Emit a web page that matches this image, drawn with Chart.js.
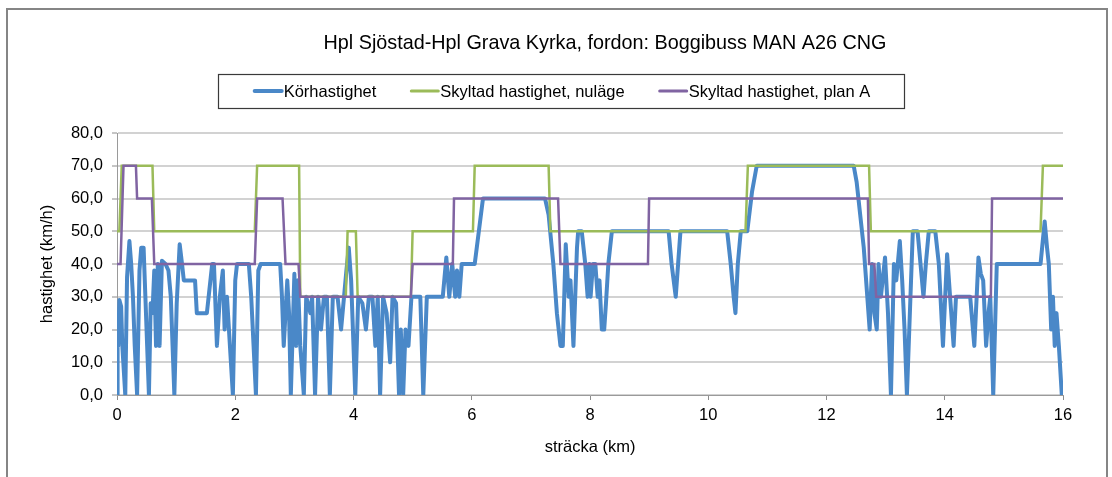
<!DOCTYPE html>
<html><head><meta charset="utf-8">
<script src="https://cdn.jsdelivr.net/npm/chart.js@4.4.0/dist/chart.umd.min.js"></script>
<style>html,body{margin:0;padding:0;background:#fff}canvas{display:block}</style>
</head><body>
<canvas id="c" width="1112" height="477"></canvas>
<script>
const chartTitle = 'Hpl Sjöstad-Hpl Grava Kyrka, fordon: Boggibuss MAN A26 CNG';
const xAxisTitle = 'sträcka (km)';
const yAxisTitle = 'hastighet (km/h)';
const seriesNames = ['Körhastighet', 'Skyltad hastighet, nuläge', 'Skyltad hastighet, plan A'];
const xTicks = [0, 2, 4, 6, 8, 10, 12, 14, 16];
const yTicks = [0, 10, 20, 30, 40, 50, 60, 70, 80];

// Körhastighet (driving speed)
const korKm = [0.00,0.01,0.02,0.04,0.07,0.09,0.14,0.17,0.21,0.24,0.27,0.30,0.34,0.38,0.41,0.45,0.48,0.51,0.54,0.57,0.60,0.63,0.66,0.69,0.72,0.76,0.82,0.87,0.91,0.94,0.97,1.01,1.06,1.10,1.13,1.32,1.35,1.52,1.55,1.61,1.64,1.69,1.74,1.79,1.82,1.86,1.91,1.96,2.00,2.03,
 2.23,2.27,2.31,2.35,2.39,2.43,2.76,2.79,2.82,2.88,2.91,2.94,3.00,3.03,3.06,3.10,3.16,3.20,3.27,3.30,3.35,3.40,3.45,3.50,3.55,3.60,3.65,3.73,3.79,3.84,3.88,3.92,3.96,4.03,
 4.08,4.15,4.21,4.26,4.32,4.37,4.41,4.45,4.50,4.56,4.62,4.66,4.72,4.77,4.80,4.84,4.88,4.93,4.98,5.13,5.18,5.24,5.51,5.57,5.62,5.67,5.72,5.75,5.79,5.83,6.05,6.12,6.19,
 7.24,7.30,7.38,7.44,7.50,7.54,7.59,7.64,7.67,7.72,7.78,7.80,7.86,7.92,7.96,7.99,8.01,8.05,8.09,8.13,8.16,8.20,8.24,8.27,8.31,8.37,9.33,9.38,9.45,9.49,9.53,
 10.32,10.38,10.43,10.46,10.50,10.55,10.66,10.74,10.82,12.46,12.51,12.57,12.63,12.69,12.73,12.77,12.81,12.85,12.88,12.92,12.99,13.04,13.09,13.14,13.18,13.24,13.28,13.32,13.36,
 13.42,13.46,13.54,13.59,13.64,13.68,13.73,13.84,13.90,13.97,14.04,14.09,14.15,14.19,14.43,14.50,14.54,14.57,14.61,14.65,14.70,14.74,14.77,14.82,14.88,15.62,15.69,15.73,15.76,15.80,15.83,15.86,15.89,15.93,15.98];
const korSpeed = [0,24,15,29,27,15,0,36,47,40,30,15,0,38,45,45,30,15,0,28,25,38,15,40,15,41,40,38,30,15,0,28,46,40,35,35,25,25,30,40,40,15,30,38,20,30,15,0,35,40,
 40,30,15,0,38,40,40,30,15,35,25,0,37,15,35,15,0,30,25,30,0,30,20,30,30,0,30,30,20,30,38,45,35,0,
 30,28,20,30,30,15,30,0,30,25,10,30,28,0,20,0,20,15,30,30,0,30,30,42,30,40,30,38,30,40,40,50,60,
 60,55,40,25,15,15,46,30,35,15,45,50,50,40,30,40,30,40,40,30,35,20,20,28,40,50,50,40,30,40,50,
 50,40,30,25,40,50,50,62,70,70,65,55,45,30,20,40,25,20,40,30,42,25,0,40,35,47,35,20,0,
 30,50,50,40,30,40,50,50,40,15,43,30,15,30,30,15,30,42,37,35,15,25,30,0,40,40,53,45,40,20,30,15,25,15,0];

// Skyltad hastighet, nuläge (posted speed, current)
const nulageKm    = [0,0.04,0.08,0.60,0.63,2.33,2.37,3.08,3.10,3.87,3.90,4.04,4.07,4.97,5.00,6.02,6.05,7.30,7.33,10.63,10.67,12.72,12.75,15.62,15.66,16];
const nulageSpeed = [50,50,70,70,50,50,70,70,30,30,50,50,30,30,50,50,70,70,50,50,70,70,50,50,70,70];

// Skyltad hastighet, plan A (posted speed, plan A)
const planKm    = [0,0.06,0.11,0.32,0.34,0.59,0.63,2.33,2.37,2.80,2.85,3.07,3.10,4.97,5.00,5.68,5.70,7.46,7.50,8.98,9.00,12.70,12.72,12.81,12.84,14.78,14.80,16];
const planSpeed = [40,40,70,70,60,60,40,40,60,60,40,40,30,30,40,40,60,60,40,40,60,60,40,40,30,30,60,60];

const FAMILY = '"Liberation Sans", Arial, sans-serif';
const baseFont = {family: FAMILY, size: 16.5};
const toPts = (xs, ys) => xs.map((x, i) => ({x: x, y: ys[i]}));

const framePlugin = {
  id: 'frame',
  beforeDraw(chart) {
    const ctx = chart.ctx;
    ctx.save();
    ctx.fillStyle = '#ffffff';
    ctx.fillRect(0, 0, chart.width, chart.height);
    ctx.strokeStyle = '#858585';
    ctx.lineWidth = 2;
    ctx.strokeRect(7, 9, 1100, 480);
    ctx.restore();
  }
};

const titlePlugin = {
  id: 'customTitle',
  afterDraw(chart) {
    const ctx = chart.ctx;
    ctx.save();
    ctx.font = '19.8px ' + FAMILY;
    ctx.fillStyle = '#000';
    ctx.textAlign = 'center';
    ctx.textBaseline = 'middle';
    ctx.fillText(chart.options.plugins.customTitle.text, 605, 44);
    ctx.restore();
  }
};

const legendPlugin = {
  id: 'boxedLegend',
  afterDraw(chart) {
    const ctx = chart.ctx;
    ctx.save();
    ctx.font = '16.5px ' + FAMILY;
    const ds = chart.data.datasets;
    const lineLen = 28, gapText = 2, gapItem = 34, margin = 34;
    const widths = ds.map(d => lineLen + gapText + ctx.measureText(d.label).width);
    const total = widths.reduce((a, b) => a + b, 0) + gapItem * (ds.length - 1);
    const cx = 562, cy = 91;
    let x = cx - total / 2;
    const boxL = Math.round(x - margin) - 1.5;
    const boxR = Math.round(x + total + margin) + 0.5;
    ctx.strokeStyle = '#3a3a3a';
    ctx.lineWidth = 1.2;
    ctx.strokeRect(boxL, 74.5, boxR - boxL, 34);
    ds.forEach((d, i) => {
      ctx.strokeStyle = d.borderColor;
      ctx.lineWidth = d.legendLineWidth;
      ctx.lineCap = 'round';
      ctx.beginPath();
      ctx.moveTo(x + 1, cy);
      ctx.lineTo(x + lineLen, cy);
      ctx.stroke();
      ctx.fillStyle = '#000';
      ctx.textAlign = 'left';
      ctx.textBaseline = 'middle';
      ctx.fillText(d.label, x + lineLen + gapText, cy + 1);
      x += widths[i] + gapItem;
    });
    ctx.restore();
  }
};

new Chart(document.getElementById('c'), {
  type: 'line',
  data: {
    datasets: [
      {label: seriesNames[0], data: toPts(korKm, korSpeed), borderColor: '#4a88c8', borderWidth: 4, legendLineWidth: 4,
       pointRadius: 0, tension: 0, borderJoinStyle: 'round', borderCapStyle: 'round', order: 3},
      {label: seriesNames[1], data: toPts(nulageKm, nulageSpeed), borderColor: '#9bbb59', borderWidth: 2.5, legendLineWidth: 3,
       pointRadius: 0, tension: 0, order: 2},
      {label: seriesNames[2], data: toPts(planKm, planSpeed), borderColor: '#8064a2', borderWidth: 2.5, legendLineWidth: 3,
       pointRadius: 0, tension: 0, order: 1}
    ]
  },
  options: {
    responsive: false,
    animation: false,
    events: [],
    layout: {padding: {top: 133, left: 0, right: 49, bottom: 0}},
    plugins: {
      legend: {display: false},
      tooltip: {enabled: false},
      title: {display: false},
      customTitle: {text: chartTitle}
    },
    scales: {
      x: {
        type: 'linear', min: 0, max: 16,
        afterBuildTicks: s => { s.ticks = xTicks.map(v => ({value: v})); },
        afterFit: s => { s.height = 82; },
        ticks: {font: baseFont, color: '#000', padding: 6, maxRotation: 0, autoSkip: false, callback: v => String(v)},
        grid: {drawOnChartArea: false, drawTicks: true, tickLength: 5, color: '#8c8c8c', tickColor: '#8c8c8c'},
        border: {display: true, color: '#9a9a9a', width: 1},
        title: {display: true, text: xAxisTitle, font: baseFont, color: '#000', padding: {top: 4, bottom: 20}}
      },
      y: {
        type: 'linear', min: 0, max: 80,
        afterBuildTicks: s => { s.ticks = yTicks.map(v => ({value: v})); },
        afterFit: s => { s.width = 117; },
        ticks: {font: baseFont, color: '#000', padding: 9, autoSkip: false, callback: v => Number(v).toFixed(1).replace('.', ',')},
        grid: {color: '#d2d2d2', lineWidth: 2, tickLength: 5, tickColor: '#8c8c8c', tickWidth: 1},
        border: {display: true, color: '#9a9a9a', width: 1},
        title: {display: true, text: yAxisTitle, font: baseFont, color: '#000', padding: {top: 38, bottom: 38}}
      }
    }
  },
  plugins: [framePlugin, titlePlugin, legendPlugin]
});
</script>
</body></html>
